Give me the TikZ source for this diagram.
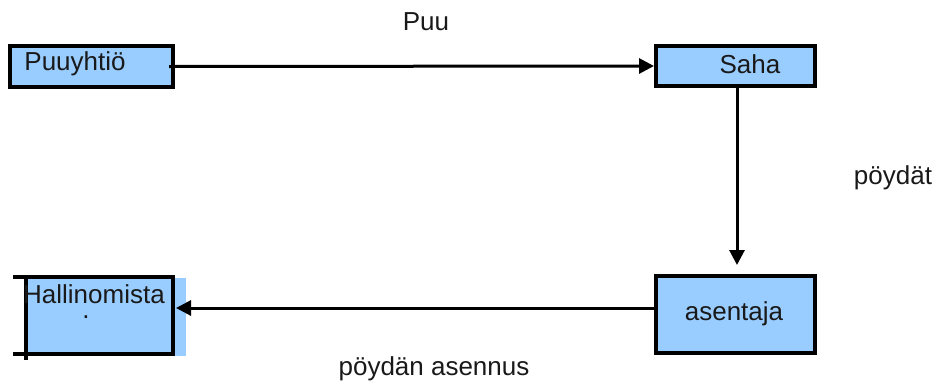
\documentclass[tikz,border=0pt]{standalone}
\usepackage{fontspec}
\setmainfont{Liberation Sans}
\usetikzlibrary{arrows.meta}
\definecolor{boxblue}{HTML}{99CCFF}
\tikzset{
  box/.style={draw=black, fill=boxblue, line width=4pt, inner sep=0pt, rectangle},
  txt/.style={inner sep=0pt, font=\fontsize{26}{30}\selectfont, text=black!90},
  flow/.style={line width=3pt, -{Triangle[length=15pt,width=15pt]}}
}
\begin{document}
\begin{tikzpicture}[x=1pt,y=-1pt]
\useasboundingbox (0,0) rectangle (939,385);
% boxes
\node[box, minimum width=163pt, minimum height=41pt] (pu) at (91.5,66.5) {};
\node[box, minimum width=159pt, minimum height=40pt] (saha) at (735.5,66) {};
\node[box, minimum width=159pt, minimum height=77pt] (as) at (735.5,314.5) {};
\node[fill=boxblue, inner sep=0pt, minimum width=158pt, minimum height=78pt] (hal) at (107,317) {};
\node[inner sep=0pt, outer sep=0pt, minimum width=147pt, minimum height=77pt] (halframe) at (99.5,315.5) {};
\draw[line width=4pt] (13,277) -- (175,277);
\draw[line width=4pt] (13,354) -- (175,354);
\draw[line width=4pt] (26,275) -- (26,360);
\draw[line width=4pt] (halframe.north east) ++(0,-2) -- ([yshift=-1pt]halframe.south east);
% texts
\node[txt] (t1) at (75,64) {Puuyhtiö};
\node[txt] (t2) at (750,64) {Saha};
\node[txt] (t3) at (734,314) {asentaja};
\node[txt, anchor=base] (t4) at (94,303) {Hallinomista};
\node[txt, anchor=base] (t4b) at (86,318) {.};
\node[txt] (l1) at (426,22) {Puu};
\node[txt] (l2) at (893,178) {pöydät};
\node[txt] (l3) at (434,369) {pöydän asennus};
% connectors
\draw[flow, shorten <=-6pt] (pu.east) -- (saha.west);
\draw[flow, shorten >=9pt] ([xshift=1.5pt]saha.south) -- ([xshift=1.5pt]as.north);
\draw[flow, shorten >=3pt] ([yshift=6.5pt]as.west) -- ([yshift=6.5pt]as.west -| halframe.east);
\end{tikzpicture}
\end{document}
